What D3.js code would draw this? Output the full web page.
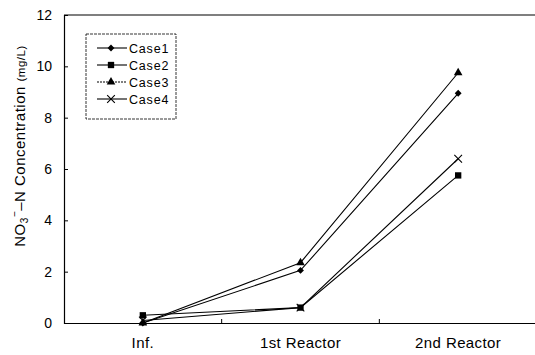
<!DOCTYPE html>
<html><head><meta charset="utf-8">
<script src="https://cdn.jsdelivr.net/npm/d3@7"></script>
<style>body{margin:0;background:#fff}svg{display:block;font-family:"Liberation Sans",Arial,sans-serif}</style>
</head><body><svg id="c" width="535" height="355"></svg>
<script>
const categories = ["Inf.", "1st Reactor", "2nd Reactor"];
const seriesNames = ["Case1", "Case2", "Case3", "Case4"];
const case1 = [0.0, 2.05, 8.95];
const case2 = [0.3, 0.6, 5.75];
const case3 = [0.0, 2.35, 9.75];
const case4 = [0.1, 0.6, 6.4];
const yTicks = [0, 2, 4, 6, 8, 10, 12];
const markers = ["diamond", "square", "triangle", "cross"];

const series = [case1, case2, case3, case4].map((v, i) => ({name: seriesNames[i], values: v, marker: markers[i]}));

const svg = d3.select("#c");
const L = 64, R = 537, T = 15, B = 323;
const x = d3.scaleBand().domain(categories).range([L, R]);
const y = d3.scaleLinear().domain([0, 12]).range([B, T]);

// frame
svg.append("line").attr("x1", L).attr("x2", R).attr("y1", T).attr("y2", T).attr("stroke", "#000").attr("stroke-width", 1.2);

// y axis
const ya = svg.append("g").attr("transform", `translate(${L},0)`)
  .call(d3.axisLeft(y).tickValues(yTicks).tickSize(-4).tickPadding(12).tickFormat(d3.format("d")));
ya.select(".domain").attr("stroke-width", 1.2);
ya.selectAll("text").attr("font-size", 14).attr("font-family", "Liberation Sans, Arial, sans-serif").attr("fill", "#000");

// x axis
const xa = svg.append("g").attr("transform", `translate(0,${B})`)
  .call(d3.axisBottom(x).tickSize(0).tickPadding(14));
xa.select(".domain").attr("stroke-width", 1.2);
xa.selectAll("text").attr("font-size", 15).attr("letter-spacing", 0.4).attr("dy", "0.71em").attr("font-family", "Liberation Sans, Arial, sans-serif").attr("fill", "#000");
// tick marks between categories
svg.append("g").selectAll("line").data(categories.slice(1)).join("line")
  .attr("x1", d => x(d)).attr("x2", d => x(d)).attr("y1", B).attr("y2", B - 4)
  .attr("stroke", "#000").attr("stroke-width", 1);

// y label
const yl = svg.append("text").attr("transform", "translate(25,146) rotate(-90)")
  .attr("text-anchor", "middle").attr("font-size", 15).attr("letter-spacing", 0.5).attr("fill", "#000");
yl.append("tspan").text("NO");
yl.append("tspan").attr("font-size", 10).attr("dy", 3).attr("letter-spacing", 0).text("3");
yl.append("tspan").attr("font-size", 10).attr("dx", 1).attr("dy", -10).attr("letter-spacing", 0).text("−");
yl.append("tspan").attr("dy", 7).text("–N Concentration ");
yl.append("tspan").attr("font-size", 11.5).text("(mg/L)");

function drawMarker(g, type) {
  if (type === "diamond") g.append("path").attr("d", d3.symbol(d3.symbolDiamond2, 30)()).attr("fill", "#000");
  else if (type === "square") g.append("path").attr("d", d3.symbol(d3.symbolSquare, 40)()).attr("fill", "#000");
  else if (type === "triangle") g.append("path").attr("d", d3.symbol(d3.symbolTriangle, 32)()).attr("fill", "#000");
  else g.append("path").attr("d", d3.symbol(d3.symbolX, 40)()).attr("fill", "none").attr("stroke", "#000").attr("stroke-width", 1.1);
}

const cx = d => x(d) + x.bandwidth() / 2;
const line = d3.line().x((d, i) => cx(categories[i])).y(d => y(d));

series.forEach(s => {
  svg.append("path").attr("d", line(s.values)).attr("fill", "none").attr("stroke", "#000").attr("stroke-width", 1.1);
  s.values.forEach((v, i) => {
    const g = svg.append("g").attr("transform", `translate(${cx(categories[i])},${y(v)})`);
    drawMarker(g, s.marker);
  });
});

// legend
const lg = svg.append("g");
lg.append("rect").attr("x", 86).attr("y", 34).attr("width", 90).attr("height", 85)
  .attr("fill", "#fff").attr("stroke", "#000").attr("stroke-width", 0.8).attr("stroke-dasharray", "3,1");
series.forEach((s, i) => {
  const yy = 48 + i * 17;
  lg.append("line").attr("x1", 97).attr("x2", 127).attr("y1", yy).attr("y2", yy)
    .attr("stroke", "#000").attr("stroke-width", 1.1).attr("stroke-dasharray", i === 2 ? "2,1" : null);
  drawMarker(lg.append("g").attr("transform", `translate(111,${yy})`), s.marker);
  lg.append("text").attr("x", 129).attr("y", yy + 4.5).attr("font-size", 12.5).attr("letter-spacing", 0.8)
    .attr("fill", "#000").text(s.name);
});
</script></body></html>
